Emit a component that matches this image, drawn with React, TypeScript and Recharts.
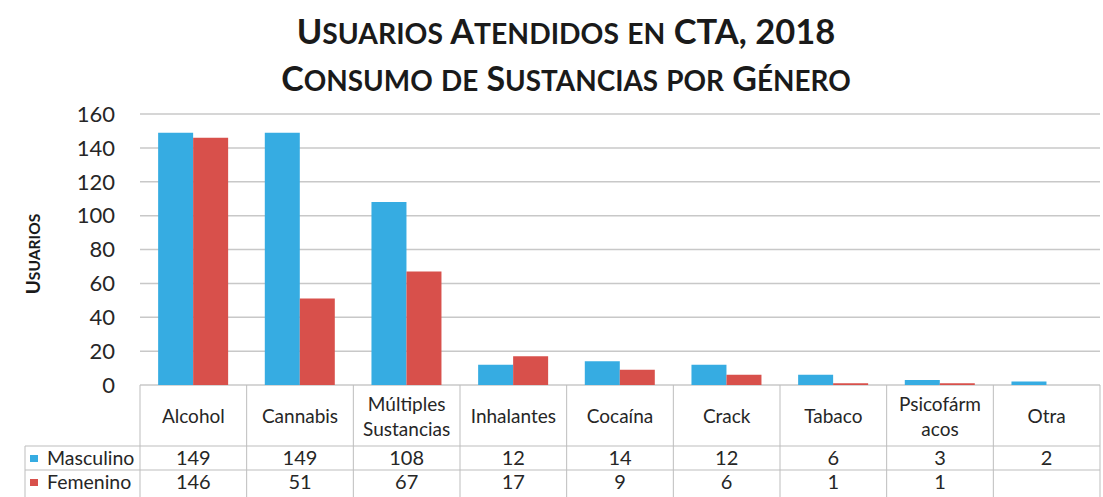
import React from 'react';
import { BarChart, Bar, XAxis, YAxis, CartesianGrid } from 'recharts';

const CATEGORIES = ['Alcohol', 'Cannabis', 'Múltiples Sustancias', 'Inhalantes', 'Cocaína', 'Crack', 'Tabaco', 'Psicofármacos', 'Otra'];
const CATEGORY_LINES = [['Alcohol'], ['Cannabis'], ['Múltiples', 'Sustancias'], ['Inhalantes'], ['Cocaína'], ['Crack'], ['Tabaco'], ['Psicofárm', 'acos'], ['Otra']];
const MASCULINO = [149, 149, 108, 12, 14, 12, 6, 3, 2];
const FEMENINO: (number | null)[] = [146, 51, 67, 17, 9, 6, 1, 1, null];
const Y_TICKS = [0, 20, 40, 60, 80, 100, 120, 140, 160];

const SERIES = [
    { key: 'masculino', name: 'Masculino', color: '#36ace2', values: MASCULINO },
    { key: 'femenino', name: 'Femenino', color: '#d8504b', values: FEMENINO },
];

const data = CATEGORIES.map((c, i) => ({
    name: c,
    masculino: MASCULINO[i],
    femenino: FEMENINO[i],
}));

const W = 1103;
const H = 497;
const MARGIN = { top: 114, right: 3, left: 0, bottom: 0 };
const Y_W = 140;
const X_H = 112;
const PLOT_W = W - MARGIN.left - MARGIN.right - Y_W;
const FONT = 'Lato, "Open Sans", sans-serif';
const TEXT = '#262626';
const GRID = '#c8c8c8';
const TABLE_LINE = '#bdbdbd';

// rows inside the table, measured from the axis top
const HEADER_H = 61;
const ROW_H = 24;
const LABEL_LEFT = 25;

const TableTick = (props: any) => {
    const { x, y, index } = props;
    const band = PLOT_W / CATEGORIES.length;
    const left = x - band / 2;
    const right = x + band / 2;
    const lines = CATEGORY_LINES[index] || [];
    const headerMid = y + HEADER_H / 2;
    const row1 = y + HEADER_H;
    const row2 = row1 + ROW_H;
    const bottom = y + X_H;
    return (
        <g fontFamily={FONT} fill={TEXT}>
            <line x1={left} x2={left} y1={y} y2={bottom} stroke={TABLE_LINE} />
            {index === CATEGORIES.length - 1 && (
                <line x1={right} x2={right} y1={y} y2={bottom} stroke={TABLE_LINE} />
            )}
            <line x1={left} x2={right} y1={row1} y2={row1} stroke={TABLE_LINE} />
            <line x1={left} x2={right} y1={row2} y2={row2} stroke={TABLE_LINE} />
            <text x={x} y={headerMid} textAnchor="middle" fontSize={19}>
                {lines.map((l: string, i: number) => (
                    <tspan key={i} x={x} dy={i === 0 ? (lines.length === 1 ? 7 : -5) : 25}>{l}</tspan>
                ))}
            </text>
            {SERIES.map((s, si) => {
                const v = s.values[index];
                return (
                    <text key={s.key} x={x} y={row1 + si * ROW_H + ROW_H / 2 + 7} textAnchor="middle" fontSize={20}>
                        {v == null ? '' : v}
                    </text>
                );
            })}
            {index === 0 && (
                <g>
                    <line x1={LABEL_LEFT} x2={left} y1={row1} y2={row1} stroke={TABLE_LINE} />
                    <line x1={LABEL_LEFT} x2={left} y1={row2} y2={row2} stroke={TABLE_LINE} />
                    <line x1={LABEL_LEFT} x2={LABEL_LEFT} y1={row1} y2={bottom} stroke={TABLE_LINE} />
                    {SERIES.map((s, si) => {
                        const cy = row1 + si * ROW_H + ROW_H / 2;
                        return (
                            <g key={s.key}>
                                <rect x={LABEL_LEFT + 5} y={cy - 3} width={8} height={7} fill={s.color} />
                                <text x={LABEL_LEFT + 22} y={cy + 7} fontSize={19.5}>{s.name}</text>
                            </g>
                        );
                    })}
                </g>
            )}
        </g>
    );
};

const SmallCaps = ({ text, x, y, size, ratio = 0.82 }: { text: string; x: number; y: number; size: number; ratio?: number }) => {
    const runs: { t: string; small: boolean }[] = [];
    for (const ch of text) {
        const small = ch !== ch.toUpperCase();
        const last = runs[runs.length - 1];
        if (last && last.small === small) last.t += ch;
        else runs.push({ t: ch, small });
    }
    return (
        <text x={x} y={y} textAnchor="middle" fontFamily={FONT} fontWeight={700} fill="#1a1a1a" fontSize={size}>
            {runs.map((r, i) => (
                <tspan key={i} fontSize={r.small ? size * ratio : size}>{r.small ? r.t.toUpperCase() : r.t}</tspan>
            ))}
        </text>
    );
};

const App: React.FC = () => {
    return (
        <div style={{ position: 'absolute', left: 0, top: 0, width: W, height: H, background: '#fff' }}>
            <BarChart
                width={W}
                height={H}
                data={data}
                margin={MARGIN}
                barCategoryGap="17%"
                barGap={0}
            >
                <CartesianGrid vertical={false} stroke={GRID} strokeWidth={1.5} />
                <XAxis
                    dataKey="name"
                    height={X_H}
                    axisLine={false}
                    tickLine={false}
                    tickSize={0}
                    tickMargin={0}
                    interval={0}
                    tick={<TableTick />}
                />
                <YAxis
                    width={Y_W}
                    domain={[0, 160]}
                    ticks={Y_TICKS}
                    axisLine={false}
                    tickLine={false}
                    tickMargin={19}
                    tick={{ fill: TEXT, fontSize: 22, fontFamily: FONT }}
                />
                {SERIES.map(s => (
                    <Bar key={s.key} dataKey={s.key} name={s.name} fill={s.color} isAnimationActive={false} />
                ))}
            </BarChart>
            <svg width={W} height={H} style={{ position: 'absolute', left: 0, top: 0, pointerEvents: 'none' }}>
                <SmallCaps text="Usuarios Atendidos en CTA, 2018" x={566} y={44} size={34.5} />
                <SmallCaps text="Consumo de Sustancias por Género" x={566} y={91} size={34} />
                <g transform="translate(40 254) rotate(-90)">
                    <SmallCaps text="Usuarios" x={0} y={0} size={19} />
                </g>
            </svg>
        </div>
    );
};

export default App;
